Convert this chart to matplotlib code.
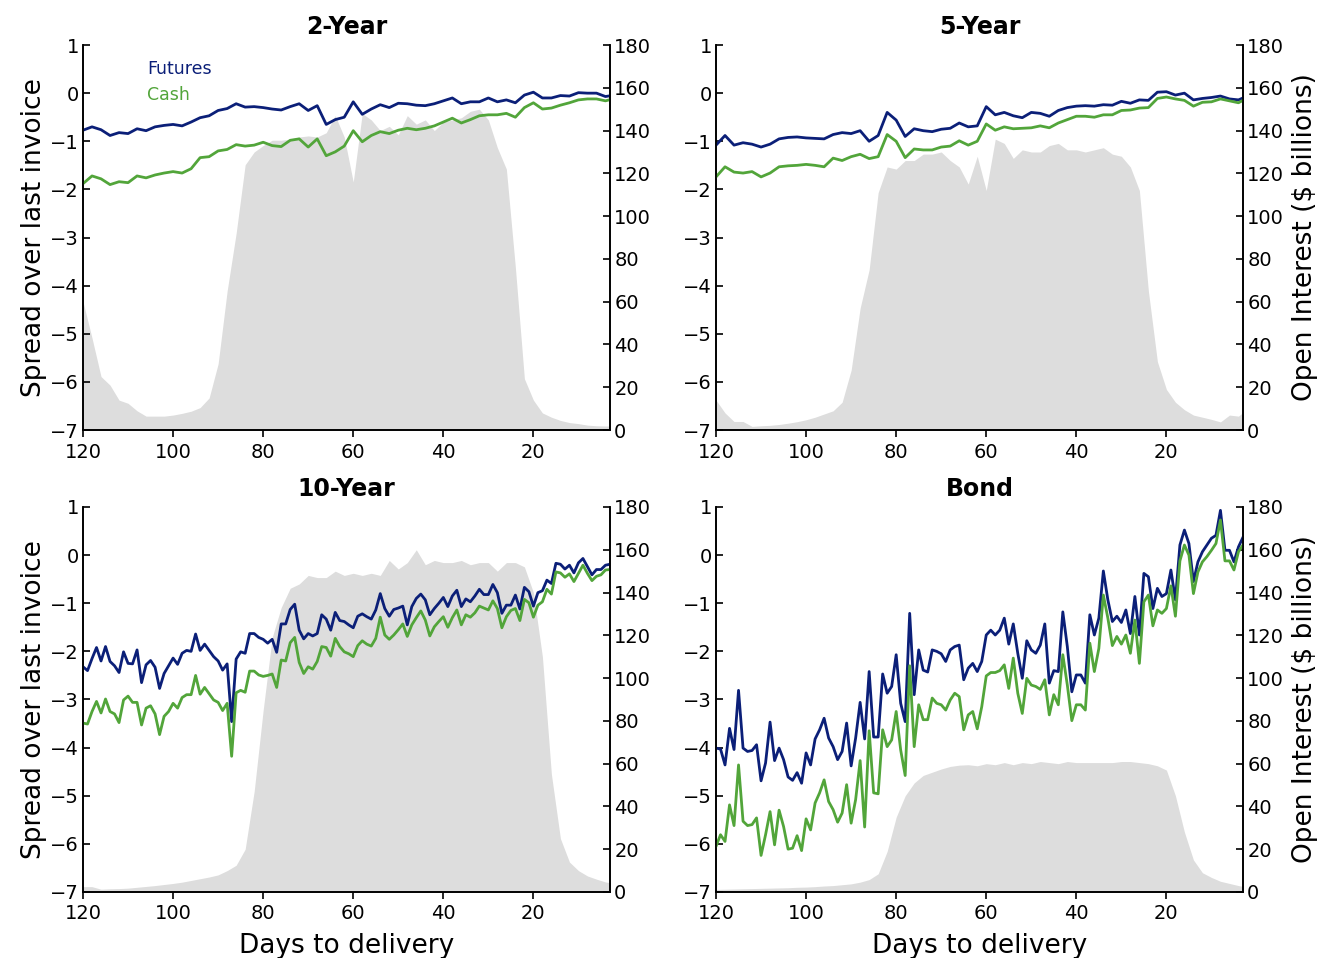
import numpy as np
import matplotlib
matplotlib.use("Agg")
import matplotlib.pyplot as plt

# days to delivery
days2 = np.arange(120, 1, -2)   # 120 .. 2
days1 = np.arange(120, 2, -1)   # 120 .. 3

# ---- 2-Year ----
tl_fut = [-0.77, -0.70, -0.76, -0.88, -0.82, -0.84, -0.74, -0.78, -0.70, -0.67,
          -0.65, -0.68, -0.60, -0.51, -0.47, -0.36, -0.32, -0.22, -0.29, -0.28,
          -0.30, -0.33, -0.35, -0.28, -0.22, -0.36, -0.26, -0.65, -0.55, -0.50,
          -0.18, -0.44, -0.33, -0.24, -0.30, -0.21, -0.22, -0.25, -0.26, -0.22,
          -0.16, -0.10, -0.22, -0.18, -0.18, -0.10, -0.18, -0.14, -0.20, -0.04,
          0.02, -0.10, -0.10, -0.05, -0.06, 0.01, 0.00, 0.00, -0.07, -0.04]
tl_cash = [-1.88, -1.72, -1.78, -1.90, -1.84, -1.86, -1.72, -1.76, -1.70, -1.66,
           -1.63, -1.66, -1.57, -1.34, -1.32, -1.20, -1.17, -1.07, -1.10, -1.08,
           -1.02, -1.09, -1.11, -0.98, -0.95, -1.12, -0.95, -1.30, -1.22, -1.10,
           -0.78, -1.01, -0.88, -0.80, -0.84, -0.77, -0.73, -0.76, -0.73, -0.68,
           -0.60, -0.52, -0.62, -0.55, -0.47, -0.45, -0.45, -0.42, -0.50, -0.30,
           -0.20, -0.33, -0.31, -0.25, -0.20, -0.14, -0.12, -0.12, -0.16, -0.11]
tl_oi = [60, 43, 25, 21, 14, 12.5, 9, 6.5, 6.5, 6.5,
         7, 7.8, 8.8, 10.5, 15, 31, 65, 92, 124, 130,
         133, 135.5, 135.5, 136, 137, 137.5, 137, 139, 147, 137,
         116, 148, 145, 140, 142, 138, 147, 143, 145, 140,
         144, 145, 146, 149, 150, 145, 132, 122, 76, 24,
         14, 8, 6, 4.5, 3.5, 3, 2.3, 2, 1.9, 1.8]

# ---- 5-Year ----
tr_fut = [-1.08, -0.88, -1.08, -1.03, -1.06, -1.12, -1.06, -0.95, -0.92, -0.91,
          -0.93, -0.94, -0.95, -0.86, -0.82, -0.84, -0.78, -1.00, -0.88, -0.40,
          -0.56, -0.90, -0.74, -0.78, -0.80, -0.75, -0.73, -0.62, -0.70, -0.68,
          -0.28, -0.45, -0.40, -0.47, -0.51, -0.40, -0.42, -0.48, -0.36, -0.30,
          -0.27, -0.26, -0.27, -0.24, -0.25, -0.17, -0.21, -0.14, -0.15, 0.02,
          0.03, -0.04, 0.00, -0.14, -0.11, -0.09, -0.06, -0.12, -0.14, -0.06]
tr_cash = [-1.74, -1.53, -1.64, -1.66, -1.63, -1.74, -1.66, -1.53, -1.51, -1.50,
           -1.48, -1.50, -1.53, -1.35, -1.40, -1.32, -1.27, -1.36, -1.32, -0.86,
           -1.00, -1.34, -1.16, -1.18, -1.18, -1.12, -1.10, -0.99, -1.08, -1.00,
           -0.64, -0.77, -0.70, -0.74, -0.73, -0.72, -0.68, -0.72, -0.62, -0.55,
           -0.48, -0.48, -0.50, -0.45, -0.45, -0.36, -0.35, -0.31, -0.30, -0.11,
           -0.08, -0.12, -0.15, -0.27, -0.19, -0.18, -0.12, -0.16, -0.20, -0.10]
tr_oi = [14, 8, 4, 4, 1.7, 2, 2.2, 2.6, 3.2, 3.9,
         4.8, 6, 7.5, 9, 13, 28, 57, 75, 111, 123,
         122, 126, 126, 129, 129, 130, 126, 123, 115, 128,
         112, 136, 134, 127, 131, 130, 130, 133, 134, 131,
         131, 130, 131, 132, 129, 128, 123, 112, 65, 32,
         19, 13, 9.5, 7, 6, 5, 3.8, 7, 6.5, 10]

# ---- 10-Year ----
bl_fut = [-2.32, -2.40, -2.15, -1.92, -2.20, -1.90, -2.21, -2.30, -2.44, -2.01,
          -2.25, -2.26, -1.97, -2.65, -2.28, -2.19, -2.33, -2.77, -2.46, -2.30,
          -2.14, -2.27, -2.04, -1.98, -2.00, -1.64, -1.98, -1.85, -1.98, -2.11,
          -2.20, -2.39, -2.26, -3.46, -2.16, -2.01, -2.04, -1.63, -1.63, -1.71,
          -1.75, -1.83, -1.75, -2.02, -1.43, -1.43, -1.13, -1.02, -1.56, -1.74,
          -1.63, -1.68, -1.63, -1.24, -1.33, -1.56, -1.19, -1.36, -1.38, -1.45,
          -1.51, -1.27, -1.22, -1.28, -1.33, -1.14, -0.80, -1.11, -1.27, -1.13,
          -1.10, -1.06, -1.45, -1.07, -0.90, -0.81, -0.93, -1.24, -1.11, -1.00,
          -0.88, -1.07, -0.85, -0.73, -1.07, -0.91, -0.97, -0.85, -0.71, -0.82,
          -0.82, -0.61, -0.78, -1.21, -1.04, -1.04, -0.83, -1.12, -0.67, -0.76,
          -1.06, -0.78, -0.74, -0.52, -0.59, -0.17, -0.19, -0.29, -0.21, -0.37,
          -0.16, -0.07, -0.24, -0.41, -0.30, -0.30, -0.21, -0.19]
bl_cash = [-3.49, -3.51, -3.25, -3.04, -3.28, -2.99, -3.25, -3.30, -3.48, -3.01,
           -2.93, -3.06, -3.06, -3.53, -3.18, -3.13, -3.30, -3.73, -3.35, -3.25,
           -3.08, -3.18, -2.96, -2.90, -2.90, -2.50, -2.89, -2.75, -2.88, -3.01,
           -3.06, -3.23, -3.08, -4.18, -2.86, -2.81, -2.85, -2.41, -2.41, -2.49,
           -2.52, -2.50, -2.47, -2.75, -2.18, -2.20, -1.82, -1.71, -2.23, -2.46,
           -2.32, -2.37, -2.21, -1.90, -1.92, -2.10, -1.73, -1.90, -2.01, -2.05,
           -2.11, -1.88, -1.78, -1.85, -1.89, -1.73, -1.29, -1.66, -1.75, -1.66,
           -1.55, -1.43, -1.69, -1.45, -1.30, -1.16, -1.35, -1.68, -1.49, -1.38,
           -1.28, -1.50, -1.30, -1.14, -1.45, -1.24, -1.29, -1.20, -1.06, -1.10,
           -1.14, -0.95, -1.11, -1.51, -1.28, -1.15, -1.11, -1.36, -0.92, -0.99,
           -1.29, -1.04, -0.97, -0.71, -0.81, -0.35, -0.37, -0.46, -0.39, -0.55,
           -0.38, -0.21, -0.38, -0.53, -0.44, -0.41, -0.31, -0.30]
bl_oi = [2.5, 2.5, 1.3, 1.5, 1.6, 1.8, 2.2, 2.6, 3.0, 3.5,
         4, 4.6, 5.4, 6.2, 7, 8, 10, 12.5, 20, 47,
         85, 119, 133, 142, 144, 148, 147, 147, 150, 148,
         149, 148, 149, 148, 155, 151, 154, 160, 153, 155,
         154, 154, 155, 153, 154, 154, 150, 154, 154, 152,
         140, 110, 55, 25, 14, 10, 7.5, 6, 4.7, 4]

# ---- Bond ----
br_fut = [-4.01, -4.03, -4.36, -3.60, -4.04, -2.81, -4.01, -4.08, -4.06, -3.94,
          -4.69, -4.32, -3.47, -4.27, -4.01, -4.25, -4.61, -4.68, -4.52, -4.74,
          -4.11, -4.36, -3.82, -3.63, -3.39, -3.80, -3.98, -4.25, -4.08, -3.49,
          -4.38, -3.80, -3.06, -3.82, -2.42, -3.78, -3.78, -2.47, -2.87, -2.73,
          -2.07, -3.08, -3.46, -1.21, -2.90, -1.97, -2.39, -2.43, -1.97, -2.00,
          -2.05, -2.21, -1.97, -1.90, -1.87, -2.59, -2.35, -2.25, -2.42, -2.21,
          -1.66, -1.56, -1.66, -1.56, -1.31, -1.85, -1.43, -2.04, -2.56, -1.78,
          -1.97, -2.04, -1.87, -1.43, -2.66, -2.40, -2.42, -1.18, -1.90, -2.84,
          -2.49, -2.49, -2.66, -1.24, -1.66, -1.31, -0.33, -0.93, -1.38, -1.27,
          -1.40, -1.14, -1.63, -0.86, -1.66, -0.38, -0.45, -1.11, -0.69, -0.86,
          -0.80, -0.31, -0.93, 0.21, 0.52, 0.24, -0.55, -0.14, 0.07, 0.21,
          0.35, 0.41, 0.93, 0.10, 0.10, -0.14, 0.17, 0.37]
br_cash = [-6.05, -5.81, -5.95, -5.19, -5.62, -4.36, -5.53, -5.62, -5.60, -5.46,
           -6.24, -5.81, -5.33, -6.02, -5.30, -5.64, -6.11, -6.09, -5.83, -6.14,
           -5.48, -5.71, -5.15, -4.94, -4.67, -5.12, -5.29, -5.55, -5.36, -4.77,
           -5.57, -5.08, -4.27, -5.65, -3.65, -4.94, -4.96, -3.63, -3.98, -3.84,
           -3.25, -4.05, -4.58, -2.30, -3.98, -3.11, -3.42, -3.42, -2.97, -3.08,
           -3.11, -3.22, -3.01, -2.87, -2.94, -3.63, -3.32, -3.25, -3.61, -3.15,
           -2.51, -2.44, -2.44, -2.40, -2.28, -2.77, -2.14, -2.87, -3.29, -2.56,
           -2.70, -2.73, -2.79, -2.59, -3.32, -2.90, -3.11, -2.07, -2.70, -3.44,
           -3.11, -3.11, -3.22, -1.83, -2.42, -1.94, -0.83, -1.31, -1.88, -1.69,
           -1.85, -1.66, -2.04, -1.35, -2.25, -0.97, -0.83, -1.47, -1.14, -1.21,
           -1.11, -0.64, -1.27, -0.12, 0.21, 0.00, -0.80, -0.35, -0.14, -0.03,
           0.10, 0.24, 0.73, -0.12, -0.12, -0.31, 0.07, 0.21]
br_oi = [1.2, 1.3, 1.4, 1.5, 1.6, 1.7, 1.8, 1.9, 2.0, 2.2,
         2.3, 2.5, 2.8, 3.0, 3.4, 3.8, 4.6, 5.8, 8.5, 19,
         35, 45, 51, 54.5, 56, 57.5, 58.7, 59.3, 59.5, 59,
         60, 59.5, 60.5, 59.5, 60.5, 60, 61, 60.5, 60, 61,
         60.5, 60.5, 60.5, 60.5, 60.5, 61, 61, 60.5, 60, 59,
         57, 45, 28, 15, 9, 6.8, 5, 4, 3, 2.2]

fut_color = '#0b1f78'
cash_color = '#52a53a'
oi_color = '#dddddd'

plt.rcParams['font.family'] = 'DejaVu Sans'
fig = plt.figure(figsize=(13.24, 9.58), dpi=100)

boxes = {
    'tl': [0.0627, 0.5511, 0.398, 0.4019],
    'tr': [0.5408, 0.5511, 0.398, 0.4019],
    'bl': [0.0627, 0.0689, 0.398, 0.4019],
    'br': [0.5408, 0.0689, 0.398, 0.4019],
}


def panel(key, title, dl, fut, cash, doi, oi, left=False, right=False, bottom=False):
    ax = fig.add_axes(boxes[key])
    ax2 = ax.twinx()
    ax2.fill_between(doi, 0, oi, color=oi_color, lw=0)
    ax.plot(dl, fut, color=fut_color, lw=2.0, label='Futures')
    ax.plot(dl, cash, color=cash_color, lw=2.0, label='Cash')

    # lines above the open-interest area
    ax.set_zorder(ax2.get_zorder() + 1)
    ax.patch.set_visible(False)

    ax.set_xlim(120, 3)
    ax.set_ylim(-7, 1)
    ax2.set_ylim(0, 180)
    ax.set_xticks([120, 100, 80, 60, 40, 20])
    ax.set_yticks(range(-7, 2))
    ax2.set_yticks(range(0, 181, 20))

    for a in (ax, ax2):
        a.spines['top'].set_visible(False)
        for s in a.spines.values():
            s.set_linewidth(1.2)
    ax.tick_params(axis='y', direction='in', length=5, width=1.2, labelsize=14, pad=3)
    ax2.tick_params(axis='y', direction='in', length=5, width=1.2, labelsize=14, pad=3)
    ax.tick_params(axis='x', direction='out', length=5, width=1.2, labelsize=14, pad=4)

    ax.set_title(title, fontsize=17, fontweight='bold', pad=8)
    if left:
        ax.set_ylabel('Spread over last invoice', fontsize=19, labelpad=2)
    if right:
        ax2.set_ylabel(r'Open Interest (\$ billions)', fontsize=19, labelpad=6)
    if bottom:
        ax.set_xlabel('Days to delivery', fontsize=19, labelpad=7)
    return ax


ax = panel('tl', '2-Year', days2, tl_fut, tl_cash, days2, tl_oi, left=True)
leg = ax.legend(loc='upper left', bbox_to_anchor=(0.121, 0.962), frameon=False,
                handlelength=0, handletextpad=0, borderpad=0, borderaxespad=0,
                labelspacing=0.5, fontsize=12.5, labelcolor='linecolor')
panel('tr', '5-Year', days2, tr_fut, tr_cash, days2, tr_oi, right=True)
panel('bl', '10-Year', days1, bl_fut, bl_cash, days2, bl_oi, left=True, bottom=True)
panel('br', 'Bond', days1, br_fut, br_cash, days2, br_oi, right=True, bottom=True)

fig.savefig('out.png', dpi=100)
